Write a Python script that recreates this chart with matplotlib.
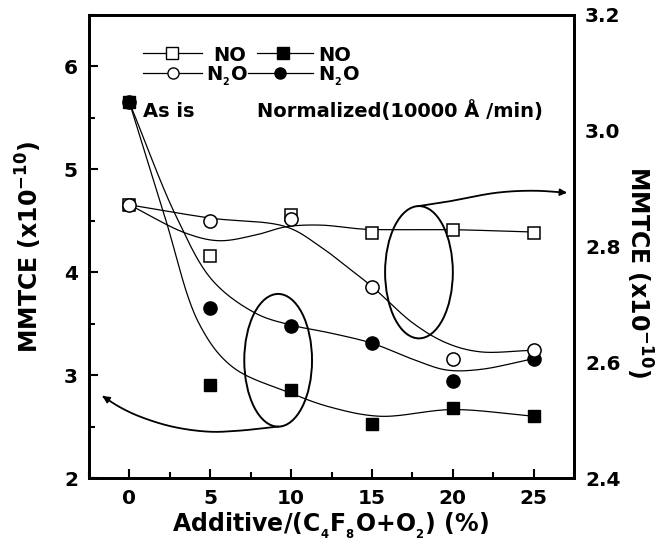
import numpy as np
import matplotlib
matplotlib.use('Agg')
import matplotlib.pyplot as plt
from matplotlib.patches import Ellipse
from matplotlib.ticker import MultipleLocator, FixedLocator

plt.rcParams['font.family'] = ['DejaVu Sans']
plt.rcParams['font.weight'] = 'bold'
plt.rcParams['mathtext.fontset'] = 'dejavusans'

# ---------------- data ----------------
additive = [0, 5, 10, 15, 20, 25]
# "As is" (open symbols, right axis)
no_asis = [2.872, 2.784, 2.854, 2.823, 2.829, 2.824]
n2o_asis = [2.872, 2.844, 2.847, 2.730, 2.606, 2.621]
# "Normalized" (filled symbols, left axis)
no_norm = [5.65, 2.90, 2.855, 2.52, 2.68, 2.60]
n2o_norm = [5.65, 3.655, 3.48, 3.31, 2.94, 3.155]

# hand-drawn guide curves (knots)
no_norm_curve_x = [0, 2.15, 4.31, 6.37, 9.9, 12.4, 15.5, 20.0, 25.0]
no_norm_curve_y = [5.65, 4.56, 3.50, 3.08, 2.83, 2.69, 2.60, 2.665, 2.60]
n2o_norm_curve_x = [0, 2.9, 5.14, 7.82, 9.9, 12.4, 15.0, 17.6, 19.6, 21.7, 25]
n2o_norm_curve_y = [5.65, 4.54, 3.92, 3.60, 3.49, 3.41, 3.31, 3.15, 3.05, 3.055, 3.16]
n2o_asis_curve_x = [0, 5.04, 9.7, 11.8, 13.45, 15.04, 17.57, 19.64, 21.7, 25]
n2o_asis_curve_y = [2.872, 2.849, 2.834, 2.800, 2.765, 2.730, 2.667, 2.633, 2.618, 2.621]
no_asis_curve_x = [0, 3.49, 5.55, 7.82, 9.68, 11.8, 14.48, 17.17, 20.01, 25]
no_asis_curve_y = [2.872, 2.823, 2.810, 2.820, 2.834, 2.837, 2.830, 2.829, 2.829, 2.825]

# annotation guides (left-axis data coordinates)
left_arrow_x = [9.2, 6.79, 4.93, 2.66, 0.6, -0.64, -1.67]
left_arrow_y = [2.50, 2.46, 2.45, 2.499, 2.60, 2.693, 2.797]
right_arrow_x = [17.9, 19.64, 22.73, 25.0, 27.07]
right_arrow_y = [4.643, 4.685, 4.773, 4.792, 4.773]

x_ticks = [0, 5, 10, 15, 20, 25]
left_ticks = [2, 3, 4, 5, 6]
right_ticks = [2.4, 2.6, 2.8, 3.0, 3.2]
right_tick_labels = ['2.4', '2.6', '2.8', '3.0', '3.2']

# ---------------- figure ----------------
W, H = 667, 558
fig = plt.figure(figsize=(W / 100, H / 100), dpi=100)
L, R, T, B = 89, 574, 15, 478
ax = fig.add_axes([L / W, 1 - B / H, (R - L) / W, (B - T) / H])
ax2 = ax.twinx()

ax.set_xlim(-2.5, 27.5)
ax.set_ylim(2, 6.5)
ax2.set_ylim(2.4, 3.2)


def smooth(axis, xs, ys, n=40):
    """Centripetal Catmull-Rom spline through the knots, computed in pixel space."""
    P = axis.transData.transform(np.column_stack([xs, ys]))
    P = np.vstack([2 * P[0] - P[1], P, 2 * P[-1] - P[-2]])
    out = []
    for i in range(1, len(P) - 2):
        p0, p1, p2, p3 = P[i - 1], P[i], P[i + 1], P[i + 2]
        t0 = 0.0
        t1 = t0 + np.linalg.norm(p1 - p0) ** 0.5
        t2 = t1 + np.linalg.norm(p2 - p1) ** 0.5
        t3 = t2 + np.linalg.norm(p3 - p2) ** 0.5
        t = np.linspace(t1, t2, n, endpoint=False)[:, None]
        A1 = (t1 - t) / (t1 - t0) * p0 + (t - t0) / (t1 - t0) * p1
        A2 = (t2 - t) / (t2 - t1) * p1 + (t - t1) / (t2 - t1) * p2
        A3 = (t3 - t) / (t3 - t2) * p2 + (t - t2) / (t3 - t2) * p3
        B1 = (t2 - t) / (t2 - t0) * A1 + (t - t0) / (t2 - t0) * A2
        B2 = (t3 - t) / (t3 - t1) * A2 + (t - t1) / (t3 - t1) * A3
        C = (t2 - t) / (t2 - t1) * B1 + (t - t1) / (t2 - t1) * B2
        out.append(C)
    out.append(P[-2][None, :])
    S = np.vstack(out)
    D = axis.transData.inverted().transform(S)
    return D[:, 0], D[:, 1]


lw_c = 0.9
for axis, cx, cy in [(ax, no_norm_curve_x, no_norm_curve_y),
                     (ax, n2o_norm_curve_x, n2o_norm_curve_y),
                     (ax2, n2o_asis_curve_x, n2o_asis_curve_y),
                     (ax2, no_asis_curve_x, no_asis_curve_y)]:
    sx, sy = smooth(axis, cx, cy)
    axis.plot(sx, sy, color='black', lw=lw_c, zorder=2)

# ellipses
ax.add_patch(Ellipse((9.2, 3.144), 4.19, 1.29, fill=False, ec='black', lw=1.4, zorder=2))
ax.add_patch(Ellipse((17.91, 4.0), 4.19, 1.286, fill=False, ec='black', lw=1.4, zorder=2))

# arrows
for axx, ayy in [(left_arrow_x, left_arrow_y), (right_arrow_x, right_arrow_y)]:
    sx, sy = smooth(ax, axx, ayy)
    ax.plot(sx[:-3], sy[:-3], color='black', lw=1.3, zorder=2)
    ax.annotate('', xy=(sx[-1], sy[-1]), xytext=(sx[-6], sy[-6]),
                arrowprops=dict(arrowstyle='-|>', color='black', lw=1.3,
                                mutation_scale=10, shrinkA=0, shrinkB=0), zorder=2)

# markers
ms_c, ms_s = 9.5, 9.0
ax.plot(additive, n2o_norm, 'o', ms=ms_c, color='black', zorder=4)
ax.plot(additive, no_norm, 's', ms=ms_s, color='black', zorder=4)
ax2.plot(additive, no_asis, 's', ms=ms_s, mfc='white', mec='black', mew=1.1, zorder=4)
ax2.plot(additive, n2o_asis, 'o', ms=ms_c, mfc='white', mec='black', mew=1.1, zorder=5)

# ---------------- axes styling ----------------
for a in (ax, ax2):
    for s in a.spines.values():
        s.set_linewidth(2)

ax.xaxis.set_major_locator(FixedLocator(x_ticks))
ax.xaxis.set_minor_locator(MultipleLocator(2.5))
ax.yaxis.set_major_locator(FixedLocator(left_ticks))
ax.yaxis.set_minor_locator(MultipleLocator(0.5))
ax.tick_params(which='major', direction='in', length=6.5, width=1.5,
               labelsize=14.5, top=False, right=False)
ax.tick_params(which='minor', direction='in', length=4, width=1.5, top=False, right=False)
ax.tick_params(axis='x', pad=8)
ax.tick_params(axis='y', pad=8)

ax2.set_yticks(right_ticks)
ax2.set_yticklabels(right_tick_labels)
ax2.tick_params(axis='y', which='both', length=0, labelsize=14.5, pad=8)

SUB = lambda d: '$_{_{\\mathbf{%s}}}$' % d
SUP = '$^{\\mathbf{-10}}$'

ax.set_xlabel('Additive/(C' + SUB(4) + 'F' + SUB(8) + 'O+O' + SUB(2) + ') (%)',
              fontsize=17, fontweight='bold')
ax.xaxis.set_label_coords(0.499, -0.116)
ax.xaxis.label.set_va('baseline')

ax.set_ylabel('MMTCE (x10' + SUP + ')', fontsize=17, fontweight='bold')
ax.yaxis.set_label_coords(-0.124, 0.5)
ax.yaxis.label.set_va('center')
ax.yaxis.label.set_rotation_mode('anchor')

ax2.set_ylabel('MMTCE (x10' + SUP + ')', fontsize=17, fontweight='bold',
               rotation=270)
ax2.yaxis.set_label_coords(1.134, 0.445)
ax2.yaxis.label.set_va('center')
ax2.yaxis.label.set_ha('center')
ax2.yaxis.label.set_rotation_mode('anchor')

# ---------------- legend ----------------
def af(px, py):
    return (px - L) / (R - L), (B - py) / (B - T)


def leg_item(x1, x2, xm, y, marker, filled):
    a1, b1 = af(x1, y)
    a2, _ = af(x2, y)
    am, _ = af(xm, y)
    ax.plot([a1, a2], [b1, b1], color='black', lw=0.9, transform=ax.transAxes,
            clip_on=False, zorder=6)
    ax.plot([am], [b1], marker=marker, ms=8, mfc='black' if filled else 'white',
            mec='black', mew=1.0, transform=ax.transAxes, clip_on=False, zorder=7)


leg_item(143, 202, 172, 53.3, 's', False)
leg_item(257, 313, 283, 53.3, 's', True)
leg_item(143, 202, 172.5, 72.7, 'o', False)
leg_item(248, 313, 280, 72.7, 'o', True)

fs_leg = 14
for px, py, s in [(213, 60.7, 'NO'), (318, 60.7, 'NO'),
                  (206, 80, 'N' + SUB(2) + 'O'), (318, 80, 'N' + SUB(2) + 'O'),
                  (143, 116.7, 'As is'), (257, 116.7, 'Normalized(10000 Å /min)')]:
    xx, yy = af(px, py)
    ax.text(xx, yy, s, transform=ax.transAxes, ha='left', va='baseline',
            fontsize=fs_leg, fontweight='bold', zorder=7)

fig.savefig('out.png', dpi=100, facecolor='white')
